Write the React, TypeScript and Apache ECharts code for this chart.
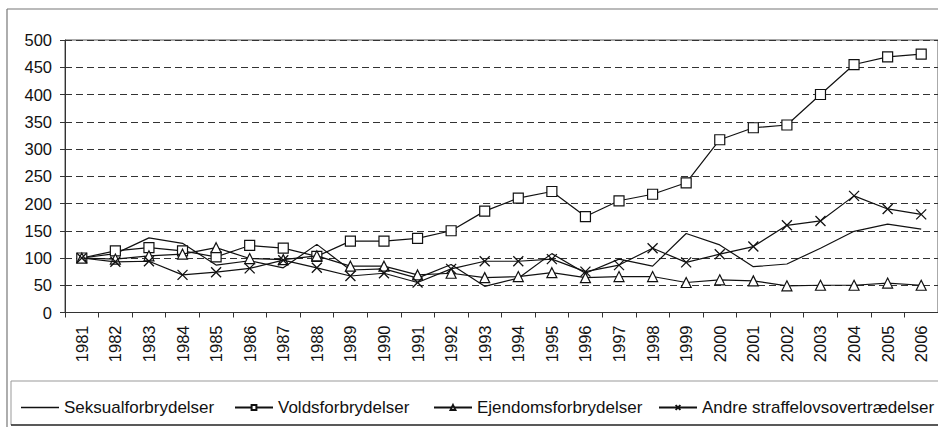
import React, { useEffect, useRef } from "react";
import * as echarts from "echarts";

const years = ["1981","1982","1983","1984","1985","1986","1987","1988","1989","1990","1991","1992","1993","1994","1995","1996","1997","1998","1999","2000","2001","2002","2003","2004","2005","2006"];
const seksual = [100,108,137,127,87,95,82,125,78,80,63,88,48,63,108,72,98,85,145,124,84,89,118,149,162,153];
const volds = [100,113,119,113,102,123,118,103,131,131,136,150,186,210,222,176,205,217,238,317,339,344,400,455,469,474];
const ejendom = [100,98,104,107,119,99,97,104,85,85,69,72,64,66,73,64,66,66,55,60,58,49,50,50,54,50];
const andre = [100,93,94,69,74,81,96,82,67,72,55,80,94,94,98,75,87,118,92,107,121,160,168,214,190,180];
const names = ["Seksualforbrydelser", "Voldsforbrydelser", "Ejendomsforbrydelser", "Andre straffelovsovertrædelser"];

const FONT = "'Liberation Sans', Arial, sans-serif";
const X_PATH = "path://M0,0L10,10M10,0L0,10";

export default function App() {
  const ref = useRef<HTMLDivElement>(null);
  useEffect(() => {
    if (!ref.current) return;
    const chart = echarts.init(ref.current, undefined, { renderer: "svg" });
    const lineStyle = { color: "#111", width: 1.2 };
    const markerStyle = { color: "#fff", borderColor: "#111", borderWidth: 1.2 };
    const legendBase = {
      top: 394,
      itemWidth: 38,
      itemHeight: 6,
      textStyle: { fontFamily: FONT, fontSize: 17, color: "#111" },
      selectedMode: false,
    };
    chart.setOption({
      animation: false,
      backgroundColor: "#fff",
      grid: {
        left: 65, top: 40, right: -1, bottom: 114.5,
        show: true, borderColor: "#555", borderWidth: 1, backgroundColor: "transparent",
      },
      legend: [
        { ...legendBase, left: 16, itemHeight: 1.3, icon: "rect", itemStyle: { color: "#111" }, data: [names[0]] },
        { ...legendBase, left: 229, data: [names[1]] },
        { ...legendBase, left: 428, data: [names[2]] },
        { ...legendBase, left: 653, data: [names[3]] },
      ],
      xAxis: {
        type: "category",
        data: years,
        boundaryGap: true,
        axisLine: { lineStyle: { color: "#333", width: 1 } },
        axisTick: { show: true, interval: 0, length: 5, lineStyle: { color: "#333" } },
        axisLabel: { rotate: 90, interval: 0, margin: 13, fontFamily: FONT, fontSize: 16.5, color: "#111" },
        splitLine: { show: false },
      },
      yAxis: {
        type: "value",
        min: 0, max: 500, interval: 50,
        axisLine: { show: true, lineStyle: { color: "#333", width: 1 } },
        axisTick: { show: true, length: 5, lineStyle: { color: "#333" } },
        axisLabel: { margin: 13, fontFamily: FONT, fontSize: 16.5, color: "#111" },
        splitLine: { show: true, lineStyle: { color: "#333", width: 1, type: [7, 4] } },
      },
      graphic: [
        { type: "line", shape: { x1: 7, y1: 9, x2: 938, y2: 9 }, style: { stroke: "#777", lineWidth: 1.2 } },
        { type: "line", shape: { x1: 7, y1: 9, x2: 7, y2: 427 }, style: { stroke: "#777", lineWidth: 1.2 } },
        { type: "line", shape: { x1: 11, y1: 381, x2: 938, y2: 381 }, style: { stroke: "#bbb", lineWidth: 1.5 } },
        { type: "line", shape: { x1: 11, y1: 381, x2: 11, y2: 425 }, style: { stroke: "#999", lineWidth: 1 } },
        { type: "line", shape: { x1: 11, y1: 425, x2: 938, y2: 425 }, style: { stroke: "#222", lineWidth: 1.5 } },
      ],
      series: [
        { name: names[0], type: "line", data: seksual, showSymbol: false, symbol: "none", lineStyle, itemStyle: { color: "#111" }, z: 2 },
        { name: names[1], type: "line", data: volds, symbol: "rect", symbolSize: 10, lineStyle, itemStyle: markerStyle, z: 3 },
        { name: names[2], type: "line", data: ejendom, symbol: "triangle", symbolSize: 10, lineStyle, itemStyle: markerStyle, z: 4 },
        { name: names[3], type: "line", data: andre, symbol: X_PATH, symbolSize: 10, lineStyle, itemStyle: { color: "transparent", borderColor: "#111", borderWidth: 1.3 }, z: 5 },
      ],
    });
    return () => chart.dispose();
  }, []);
  return <div ref={ref} style={{ position: "fixed", left: 0, top: 0, width: 938, height: 427 }} />;
}
